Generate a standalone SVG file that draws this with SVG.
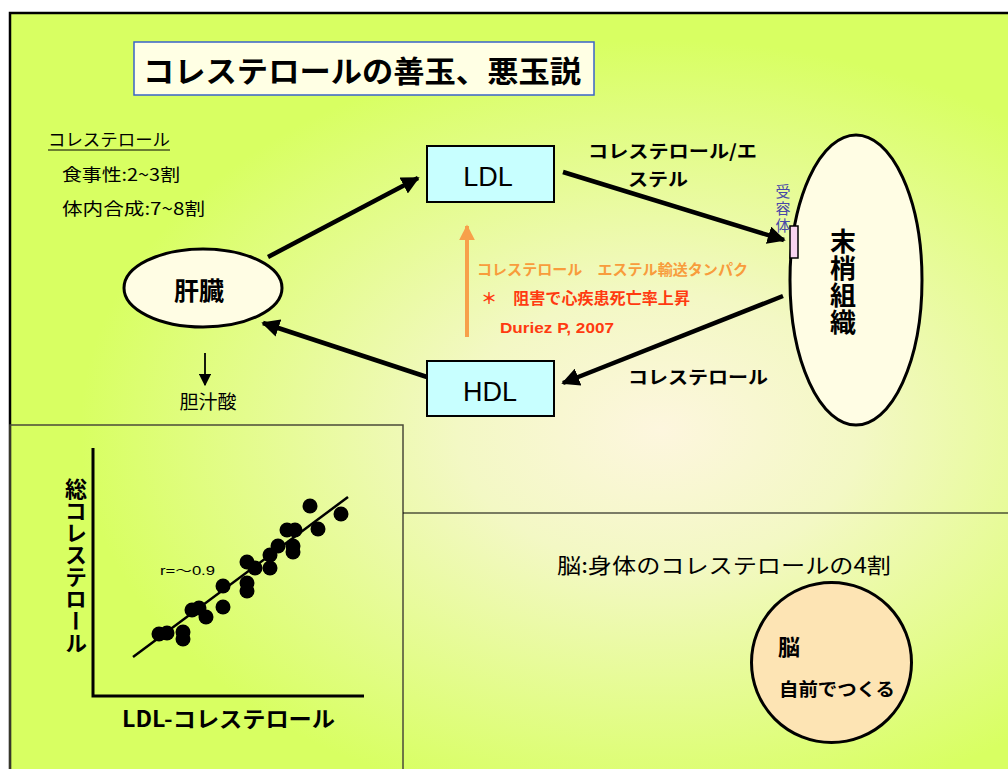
<svg xmlns="http://www.w3.org/2000/svg" width="1008" height="769" viewBox="0 0 1008 769">
<defs>
<radialGradient id="bg" gradientUnits="userSpaceOnUse" cx="0" cy="0" r="1" gradientTransform="translate(660 430) scale(580 390)">
<stop offset="0" stop-color="#fdf6de"/>
<stop offset="0.35" stop-color="#f3f8c4"/>
<stop offset="1" stop-color="#d8ff62"/>
</radialGradient>
<marker id="ah" viewBox="0 0 10 10" refX="9" refY="5" markerWidth="4" markerHeight="4" orient="auto" markerUnits="strokeWidth">
<path d="M0,0 L10,5 L0,10 z" fill="#000"/>
</marker>
<marker id="ahs" viewBox="0 0 10 10" refX="9" refY="5" markerWidth="7" markerHeight="7" orient="auto" markerUnits="strokeWidth">
<path d="M0,0 L10,5 L0,10 z" fill="#000"/>
</marker>
<marker id="aho" viewBox="0 0 10 10" refX="9" refY="5" markerWidth="4" markerHeight="4" orient="auto" markerUnits="strokeWidth">
<path d="M0,0 L10,5 L0,10 z" fill="#f7a04a"/>
</marker>
</defs>
<style>
.t{font-family:"Noto Sans CJK JP","Liberation Sans",sans-serif;fill:#000}
.l{font-family:"Liberation Sans","Noto Sans CJK JP",sans-serif}
.b{font-weight:bold}
.box{fill:#c8ffff;stroke:#000;stroke-width:2}
.ell{fill:#fffde4;stroke:#000;stroke-width:3}
.arr{stroke:#000;stroke-width:4.5;fill:none;marker-end:url(#ah)}
.dot{fill:#000}
.vert{writing-mode:vertical-rl}
</style>
<rect x="0" y="0" width="1008" height="769" fill="#fff"/>
<rect x="10" y="13" width="1010" height="770" fill="url(#bg)" stroke="#000" stroke-width="2.5"/>

<g id="title">
<rect x="134" y="42" width="460" height="53" fill="#ffffe4" stroke="#3a64c8" stroke-width="1.5"/>
<text class="t b" x="143" y="82" font-size="30" textLength="438" lengthAdjust="spacingAndGlyphs">コレステロールの善玉、悪玉説</text>
</g>

<g id="intro">
<text class="t" x="48" y="146" font-size="17" textLength="122" lengthAdjust="spacingAndGlyphs">コレステロール</text>
<line x1="48" y1="150" x2="170" y2="150" stroke="#000" stroke-width="1.2"/>
<text class="t" x="62" y="181" font-size="17" textLength="118" lengthAdjust="spacingAndGlyphs">食事性:2~3割</text>
<text class="t" x="62" y="215" font-size="17" textLength="143" lengthAdjust="spacingAndGlyphs">体内合成:7~8割</text>
</g>

<g id="connectors">
<line x1="268" y1="257" x2="418" y2="178" class="arr"/>
<line x1="427" y1="377" x2="263" y2="323" class="arr"/>
<line x1="563" y1="172" x2="784" y2="240" class="arr"/>
<line x1="783" y1="296" x2="563" y2="383" class="arr"/>
<line x1="467" y1="337" x2="467" y2="226" stroke="#f7a04a" stroke-width="4" marker-end="url(#aho)"/>
<line x1="205" y1="353" x2="205" y2="385" stroke="#000" stroke-width="1.8" marker-end="url(#ahs)"/>
</g>

<g id="liver">
<ellipse cx="203" cy="288" rx="79" ry="39" class="ell"/>
<text class="t b" x="199" y="300" font-size="25" text-anchor="middle">肝臓</text>
</g>

<g id="bile">
<text class="t" x="208" y="409" font-size="19" text-anchor="middle">胆汁酸</text>
</g>

<g id="ldl">
<rect x="427" y="146" width="127" height="56" class="box"/>
<text class="t l" x="488" y="186" font-size="27" text-anchor="middle">LDL</text>
</g>

<g id="hdl">
<rect x="427" y="361" width="127" height="55" class="box"/>
<text class="t l" x="490" y="401" font-size="27" text-anchor="middle">HDL</text>
</g>

<g id="cetp">
<text class="t b" x="477" y="275" font-size="14.5" style="fill:#f89c3c" textLength="271" lengthAdjust="spacingAndGlyphs">コレステロール　エステル輸送タンパク</text>
<text class="t b" x="481" y="304" font-size="15.5" style="fill:#ff3a10" textLength="209" lengthAdjust="spacingAndGlyphs">＊　阻害で心疾患死亡率上昇</text>
<text class="t l b" x="500" y="333" font-size="15" style="fill:#ff3a10" textLength="114" lengthAdjust="spacingAndGlyphs">Duriez P, 2007</text>
</g>

<g id="labels">
<text class="t b" x="588" y="158" font-size="18" textLength="169" lengthAdjust="spacingAndGlyphs">コレステロール/エ</text>
<text class="t b" x="628" y="186" font-size="18" textLength="60" lengthAdjust="spacingAndGlyphs">ステル</text>
<text class="t b" x="628" y="384" font-size="18" textLength="140" lengthAdjust="spacingAndGlyphs">コレステロール</text>
</g>

<g id="peripheral">
<ellipse cx="856" cy="280" rx="66" ry="145" class="ell"/>
<rect x="790" y="226" width="8" height="32" fill="#f8d4f0" stroke="#000" stroke-width="1.5"/>
<text class="t vert" x="783" y="184" font-size="15" letter-spacing="2" style="fill:#4848a8">受容体</text>
<text class="t b vert" x="843" y="228" font-size="26" letter-spacing="1">末梢組織</text>
</g>

<g id="scatter">
<rect x="10" y="425" width="393" height="360" fill="none" stroke="#4a4a38" stroke-width="1.5"/>
<line x1="403" y1="513" x2="1010" y2="513" stroke="#000" stroke-width="1.2"/>
<polyline points="93,448 93,696 364,696" fill="none" stroke="#000" stroke-width="3"/>
<line x1="133" y1="657" x2="348" y2="497" stroke="#000" stroke-width="2.5"/>
<circle class="dot" cx="310" cy="506" r="7.5"/>
<circle class="dot" cx="341" cy="514" r="7.5"/>
<circle class="dot" cx="318" cy="529" r="7.5"/>
<circle class="dot" cx="287" cy="530" r="7.5"/>
<circle class="dot" cx="295" cy="530" r="7.5"/>
<circle class="dot" cx="293" cy="546" r="7.5"/>
<circle class="dot" cx="293" cy="552" r="7.5"/>
<circle class="dot" cx="278" cy="546" r="7.5"/>
<circle class="dot" cx="270" cy="555" r="7.5"/>
<circle class="dot" cx="270" cy="568" r="7.5"/>
<circle class="dot" cx="247" cy="562" r="7.5"/>
<circle class="dot" cx="255" cy="568" r="7.5"/>
<circle class="dot" cx="247" cy="583" r="7.5"/>
<circle class="dot" cx="247" cy="591" r="7.5"/>
<circle class="dot" cx="223" cy="586" r="7.5"/>
<circle class="dot" cx="223" cy="607" r="7.5"/>
<circle class="dot" cx="192" cy="610" r="7.5"/>
<circle class="dot" cx="199" cy="608" r="7.5"/>
<circle class="dot" cx="206" cy="617" r="7.5"/>
<circle class="dot" cx="159" cy="634" r="7.5"/>
<circle class="dot" cx="167" cy="633" r="7.5"/>
<circle class="dot" cx="183" cy="632" r="7.5"/>
<circle class="dot" cx="183" cy="639" r="7.5"/>
<text class="t l" x="160" y="575" font-size="13" textLength="55" lengthAdjust="spacingAndGlyphs">r=～0.9</text>
<text class="t b vert" x="76" y="478" font-size="22">総コレステロール</text>
<text class="t b" x="122" y="727" font-size="22" textLength="213" lengthAdjust="spacingAndGlyphs">LDL-コレステロール</text>
</g>

<g id="brain">
<text class="t" x="557" y="573" font-size="21" textLength="334" lengthAdjust="spacingAndGlyphs">脳:身体のコレステロールの4割</text>
<circle cx="831.5" cy="662.5" r="80" fill="#fde4b4" stroke="#000" stroke-width="3"/>
<text class="t b" x="778" y="655" font-size="22">脳</text>
<text class="t b" x="779" y="696" font-size="18" textLength="116" lengthAdjust="spacingAndGlyphs">自前でつくる</text>
</g>
</svg>
